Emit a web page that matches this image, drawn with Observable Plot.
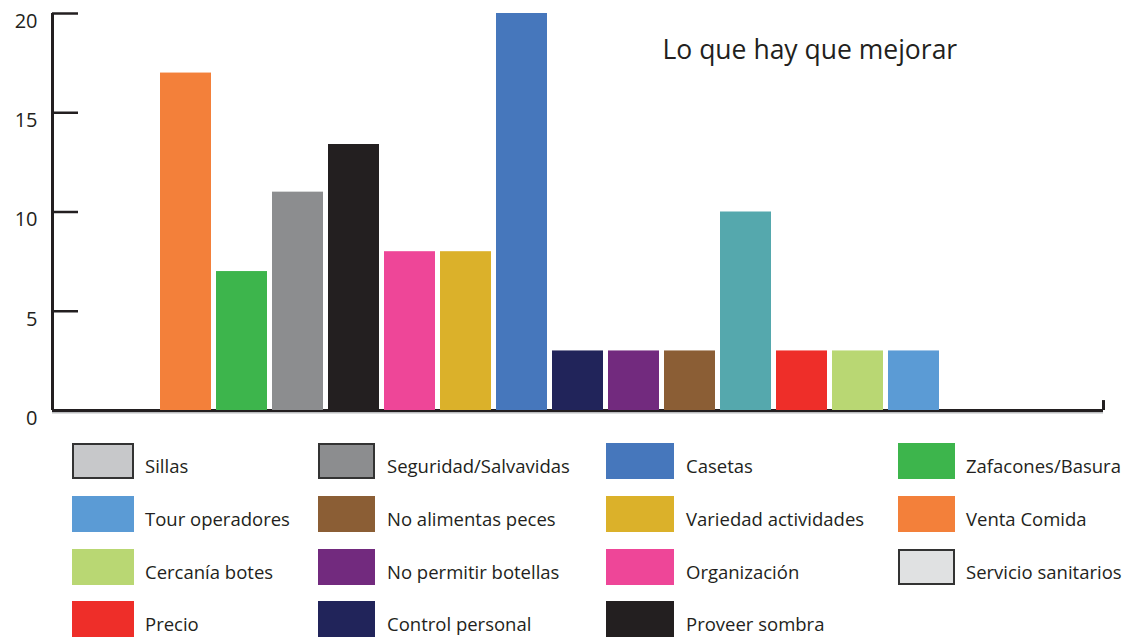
<!DOCTYPE html>
<html>
<head>
<meta charset="utf-8">
<script src="https://cdn.jsdelivr.net/npm/d3@7"></script>
<script src="https://cdn.jsdelivr.net/npm/@observablehq/plot@0.6"></script>
<style>
  html, body { margin: 0; padding: 0; background: #fff; }
  body { width: 1130px; height: 637px; overflow: hidden; font-family: "Open Sans", sans-serif; color: #231f20; }
  #legend { position: relative; width: 1130px; height: 207px; }
  .sw { position: absolute; height: 36px; box-sizing: border-box; }
  .lb { position: absolute; font-size: 18.5px; line-height: 20px; white-space: nowrap; color: #231f20; }
</style>
</head>
<body>
<div id="chart"></div>
<div id="legend"></div>
<script>
// ---- data ----
const title = "Lo que hay que mejorar";
const barNames = ["Venta Comida", "Zafacones/Basura", "Seguridad/Salvavidas", "Proveer sombra", "Organización", "Variedad actividades", "Casetas", "Control personal", "No permitir botellas", "No alimentas peces", "Otro", "Precio", "Cercanía botes", "Tour operadores"];
const barValues = [17, 7, 11, 13.4, 8, 8, 20, 3, 3, 3, 10, 3, 3, 3];
const yTicks = [0, 5, 10, 15, 20];
const legendNames = [
  "Sillas", "Tour operadores", "Cercanía botes", "Precio",
  "Seguridad/Salvavidas", "No alimentas peces", "No permitir botellas", "Control personal",
  "Casetas", "Variedad actividades", "Organización", "Proveer sombra",
  "Zafacones/Basura", "Venta Comida", "Servicio sanitarios"
];
const colorNames = ["Sillas", "Tour operadores", "Cercanía botes", "Precio", "Seguridad/Salvavidas", "No alimentas peces", "No permitir botellas", "Control personal", "Casetas", "Variedad actividades", "Organización", "Proveer sombra", "Zafacones/Basura", "Venta Comida", "Servicio sanitarios", "Otro"];
const colorValues = ["#c7c8ca", "#5b9bd5", "#b9d773", "#ee2e29", "#8c8d8f", "#8b5e35", "#722a7e", "#21245a", "#4677bc", "#dbb12a", "#ee4698", "#231f20", "#3db54c", "#f3803a", "#e0e1e2", "#55a8ad"];
const outlined = ["Sillas", "Seguridad/Salvavidas", "Servicio sanitarios"];

const bars = barNames.map((name, i) => ({name, value: barValues[i]}));
const colorOf = new Map(colorNames.map((n, i) => [n, colorValues[i]]));

// ---- chart ----
const W = 1130, H = 430, ML = 52, MR = 27, MT = 13, MB = 20;
const frameMid = (ML + (W - MR)) / 2;
const ink = "#231f20";

const chart = Plot.plot({
  width: W, height: H,
  marginLeft: ML, marginRight: MR, marginTop: MT, marginBottom: MB,
  style: {fontFamily: "'Open Sans', sans-serif", color: ink, background: "#fff"},
  x: {domain: barNames, range: [156.5, 941.5], paddingInner: 0.09, paddingOuter: 0.045, axis: null},
  y: {domain: [0, 20], axis: null},
  color: {domain: colorNames, range: colorValues},
  marks: [
    Plot.ruleY([0], {stroke: "#bbbdbf", strokeWidth: 3, dy: 1.5}),
    Plot.ruleY([0], {stroke: ink, strokeWidth: 3}),
    Plot.barY(bars, {x: "name", y: "value", fill: "name"}),
    Plot.ruleX([0], {x: null, stroke: ink, strokeWidth: 3, dx: ML - frameMid}),
    Plot.ruleX([0], {x: null, y1: 0, y2: 0.5, stroke: ink, strokeWidth: 3, dx: (W - MR) - frameMid}),
    Plot.axisY({ticks: yTicks, tickSize: -26, fill: "none", stroke: ink, strokeWidth: 2.5, label: null}),
    Plot.axisY({ticks: yTicks, tickSize: 0, tickPadding: 15, dy: 8, fontSize: 20, fill: ink, label: null}),
    Plot.text([title], {frameAnchor: "top-left", dx: 610, dy: 37, textAnchor: "start", lineAnchor: "middle", fontSize: 26.5, fill: ink})
  ]
});
document.getElementById("chart").appendChild(chart);

// ---- legend ----
const colSwX = [72, 318, 606, 898];
const colSwW = [62, 57, 68, 57];
const colLbX = [145, 387, 686, 966];
const rowTop = [13, 66, 119, 171];
const legend = document.getElementById("legend");
legendNames.forEach((name, i) => {
  const c = Math.floor(i / 4), r = i % 4;
  const sw = document.createElement("div");
  sw.className = "sw";
  sw.style.left = colSwX[c] + "px";
  sw.style.top = rowTop[r] + "px";
  sw.style.width = colSwW[c] + "px";
  sw.style.background = colorOf.get(name);
  if (outlined.includes(name)) sw.style.border = "2px solid #333";
  legend.appendChild(sw);
  const lb = document.createElement("div");
  lb.className = "lb";
  lb.textContent = name;
  lb.style.left = colLbX[c] + "px";
  lb.style.top = (rowTop[r] + 13) + "px";
  legend.appendChild(lb);
});
</script>
</body>
</html>
